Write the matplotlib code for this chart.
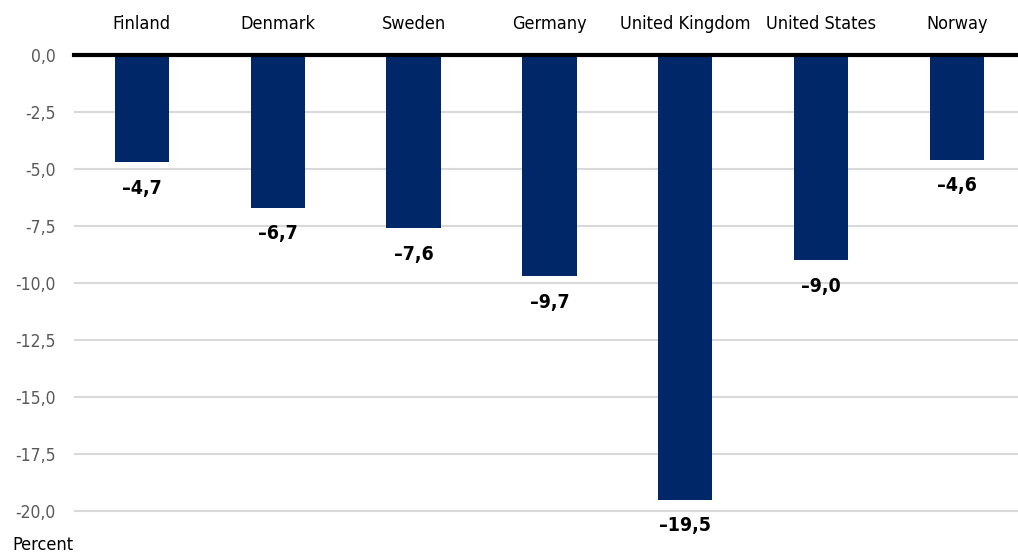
import matplotlib.pyplot as plt

countries = ["Finland", "Denmark", "Sweden", "Germany", "United Kingdom", "United States", "Norway"]
values = [-4.7, -6.7, -7.6, -9.7, -19.5, -9.0, -4.6]
yticks = [0, -2.5, -5, -7.5, -10, -12.5, -15, -17.5, -20]

# condensed look, DejaVu Sans Condensed ships with the DejaVu family
plt.rcParams['font.family'] = ['DejaVu Sans']
plt.rcParams['font.stretch'] = 'condensed'

W, H = 1018, 559
fig = plt.figure(figsize=(W / 100, H / 100), dpi=100)
top = 55
bottom = 55 + 20.5 * 22.8
ax = fig.add_axes([74 / W, 1 - bottom / H, (W - 74) / W, (bottom - top) / H])

x = range(len(countries))
ax.bar(x, values, width=0.4, color='#002868', zorder=3)
ax.set_xlim(-0.5, 6.45)
ax.set_ylim(-20.5, 0)

ax.set_yticks(yticks)
ax.set_yticklabels([f"{t:.1f}".replace('.', ',') for t in yticks], color='#595959', fontsize=12.5)
ax.tick_params(axis='y', length=0, pad=13)
ax.grid(axis='y', color='#d9d9d9', linewidth=1.5, zorder=0)

ax.xaxis.tick_top()
ax.set_xticks(list(x))
ax.set_xticklabels(countries, fontsize=13)
ax.tick_params(axis='x', length=0, pad=16)

for s in ax.spines.values():
    s.set_visible(False)
ax.axhline(0, color='black', linewidth=3, zorder=4, clip_on=False)

for i, v in enumerate(values):
    ax.annotate(f"{v:.1f}".replace('.', ',').replace('-', '\u2013'), (i, v),
                xytext=(0, -26), textcoords='offset pixels', ha='center', va='center',
                fontsize=14, fontweight='bold')

fig.text(12 / W, 1 - 545 / H, "Percent", fontsize=13, va='center', ha='left')

fig.savefig('out.png', dpi=100)
